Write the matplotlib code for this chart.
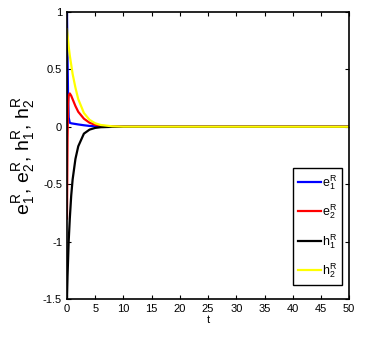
import numpy as np
import matplotlib
matplotlib.use("Agg")
from matplotlib import pyplot as plt

# sampled by eye from the reference curves
t = [0, 0.1, 0.2, 0.3, 0.5, 0.75, 1, 1.5, 2, 3, 4, 5, 6, 8, 10, 50]
e1 = [1.0, 0.6, 0.25, 0.08, 0.035, 0.03, 0.028, 0.024, 0.02, 0.013, 0.007, 0.004, 0.002, 0.0, 0.0, 0.0]
e2 = [-0.8, -0.1, 0.2, 0.27, 0.29, 0.27, 0.24, 0.18, 0.13, 0.07, 0.035, 0.017, 0.008, 0.002, 0.0, 0.0]
h1 = [-1.5, -1.3, -1.15, -1.0, -0.8, -0.6, -0.46, -0.28, -0.17, -0.06, -0.025, -0.01, -0.004, -0.001, 0.0, 0.0]
h2 = [0.85, 0.8, 0.75, 0.7, 0.62, 0.54, 0.46, 0.34, 0.24, 0.12, 0.06, 0.03, 0.015, 0.004, 0.001, 0.0]

series = [
    (e1, "blue", r"e$_1^R$"),
    (e2, "red", r"e$_2^R$"),
    (h1, "black", r"h$_1^R$"),
    (h2, "yellow", r"h$_2^R$"),
]

plt.rcParams["font.family"] = ["Liberation Sans", "DejaVu Sans"]
plt.rcParams["mathtext.fontset"] = "custom"
plt.rcParams["mathtext.rm"] = "Liberation Sans"
plt.rcParams["mathtext.it"] = "Liberation Sans"

fig = plt.figure(figsize=(3.66, 3.42), dpi=100)
ax = fig.add_axes([0.183, 0.126, 0.771, 0.839])

for y, c, lab in series:
    ax.plot(t, y, color=c, lw=1.6, label=lab)

ax.set_xlim(0, 50)
ax.set_ylim(-1.5, 1)
ax.set_xticks(np.arange(0, 51, 5))
ax.set_yticks([-1.5, -1, -0.5, 0, 0.5, 1])
ax.set_yticklabels(["-1.5", "-1", "-0.5", "0", "0.5", "1"])
ax.tick_params(direction="in", length=3, labelsize=8, top=True, right=True, width=0.8)
for s in ax.spines.values():
    s.set_linewidth(1.2)

ax.set_xlabel("t", fontsize=8, labelpad=1)
ax.set_ylabel(r"e$_1^R$, e$_2^R$, h$_1^R$, h$_2^R$", fontsize=14, labelpad=4)

leg = ax.legend(loc="lower right", bbox_to_anchor=(0.975, 0.049), fontsize=9,
                handlelength=1.8, labelspacing=0.85, handletextpad=0.1,
                borderpad=0.4, borderaxespad=0, fancybox=False, framealpha=1)
leg.get_frame().set_edgecolor("black")
leg.get_frame().set_linewidth(1.0)

fig.savefig("out.png", dpi=100)
